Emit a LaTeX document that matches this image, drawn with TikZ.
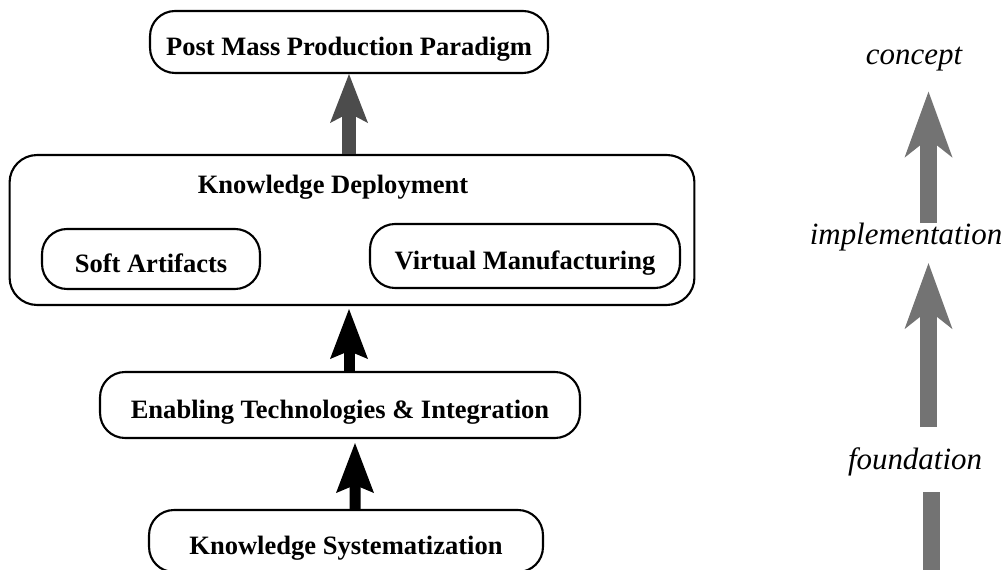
\documentclass[tikz,border=0pt]{standalone}
\usepackage{fontspec}
\setmainfont{Liberation Serif}
\usetikzlibrary{arrows.meta}

\begin{document}
\begin{tikzpicture}[x=0.02cm, y=-0.02cm,
  box/.style={draw, line width=1.2pt, rounded corners=0.5cm, inner sep=0pt,
    text height=15.4pt, text depth=0pt,
    font=\fontsize{15.1}{18}\selectfont\bfseries},
  level/.style={inner sep=0pt, text height=12.3pt, text depth=3.9pt,
    font=\fontsize{17.6}{21}\selectfont\itshape},
  blackup/.style={draw=black, line width=0.22cm,
    -{Stealth[length=1.0cm, width=0.76cm, inset=0.16cm, line width=0pt]}},
  darkup/.style={draw=black!70, line width=0.28cm,
    -{Stealth[length=0.98cm, width=0.76cm, inset=0.2cm, line width=0pt]}},
  greyup/.style={draw=black!55, line width=0.34cm,
    -{Stealth[length=1.32cm, width=0.96cm, inset=0.38cm, line width=0pt]}},
  greyshaft/.style={draw=black!55, line width=0.34cm}]
\useasboundingbox (0, 0) rectangle (1006, 570);

% left column: the stack of boxes
\node[box, minimum width=7.96cm, minimum height=1.24cm] (post) at (349, 42) {Post Mass Production Paradigm};

\node[box, rounded corners=0.55cm, minimum width=13.7cm, minimum height=3cm] (deploy) at (352, 230) {};
\node[font=\fontsize{15.1}{18}\selectfont\bfseries, inner sep=0pt] (deploytitle) at (333, 187) {Knowledge Deployment};
\node[box, minimum width=4.36cm, minimum height=1.2cm] (soft) at (151, 259) {Soft Artifacts};
\node[box, minimum width=6.2cm, minimum height=1.28cm] (virtual) at (525, 256) {Virtual Manufacturing};

\node[box, minimum width=9.6cm, minimum height=1.32cm] (enabling) at (340, 405) {Enabling Technologies \& Integration};
\node[box, minimum width=7.88cm, minimum height=1.24cm] (system) at (346, 541) {Knowledge Systematization};

\draw[darkup] (deploy.north -| post.south) -- (post.south);
\draw[blackup, shorten >=0.06cm] (enabling.north -| post.south) -- (deploy.south -| post.south);
\draw[blackup, shorten >=0.08cm] ([xshift=0.18cm]system.north) -- ([xshift=0.3cm]enabling.south);

% right column: levels
\node[level] (concept) at (914, 57.6) {concept};
\node[level] (impl) at (906, 237.6) {implementation};
\node[level] (foundation) at (915, 462.6) {foundation};

\coordinate (rail) at (928.5, 0);
\coordinate (base) at (931.5, 575);

\draw[greyup, shorten >=0.39cm] (impl.north -| rail) -- (concept.south -| rail);
\draw[greyup, shorten <=0.42cm, shorten >=0.22cm] (foundation.north -| rail) -- (impl.south -| rail);
\draw[greyshaft, shorten >=0.3cm] (base) -- (foundation.south -| base);
\end{tikzpicture}
\end{document}
